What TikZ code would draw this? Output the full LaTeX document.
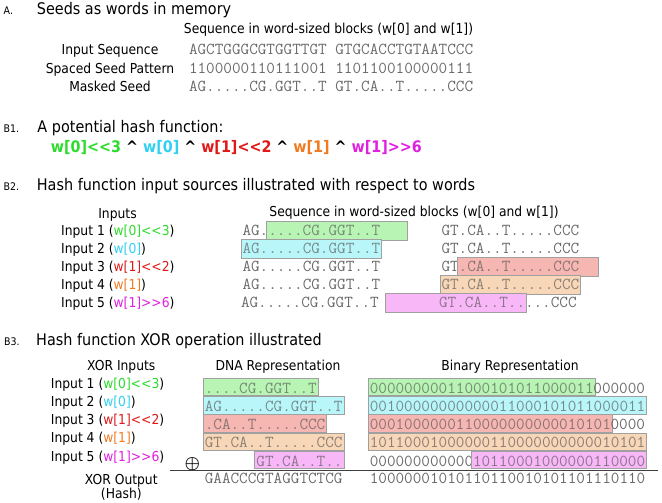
\documentclass[tikz,border=0pt]{standalone}
\usepackage{fontspec}
\setsansfont{DejaVu Sans}[FakeStretch=0.9]
\usepackage{tikz}

\definecolor{txtgreen}{HTML}{2CDC2C}
\definecolor{txtcyan}{HTML}{30D0F0}
\definecolor{txtred}{HTML}{E01818}
\definecolor{txtorange}{HTML}{F07A20}
\definecolor{txtmagenta}{HTML}{E020E0}
\definecolor{boxgreen}{HTML}{B8F4B4}
\definecolor{boxcyan}{HTML}{B8F6FA}
\definecolor{boxred}{HTML}{F6B6B2}
\definecolor{boxorange}{HTML}{F8D6B8}
\definecolor{boxmagenta}{HTML}{F8B8F8}
\definecolor{boxline}{HTML}{A0A0A0}
\definecolor{seqgray}{HTML}{6A6A6A}

% width of one sequence character
\newcommand{\chw}{8.6}
% shift operators (kern keeps << and >> from turning into guillemets)
\newcommand{\shl}{<\kern0pt<}
\newcommand{\shr}{>\kern0pt>}

\begin{document}
\begin{tikzpicture}[
  x=1pt, y=-1pt,
  head/.style={font=\sffamily\fontsize{16}{18}\selectfont, anchor=base west, inner sep=0pt},
  tag/.style={font=\sffamily\fontsize{10.5}{12}\selectfont, anchor=base west, inner sep=0pt},
  lbl/.style={font=\sffamily\fontsize{13.7}{16}\selectfont, anchor=base, inner sep=0pt},
  lblw/.style={lbl, anchor=base west},
  formula/.style={font=\sffamily\bfseries\fontsize{15.9}{18}\selectfont, anchor=base west, inner sep=0pt},
  seq/.style={font=\ttfamily\fontsize{16.72}{18}\selectfont, text=seqgray, anchor=text, inner sep=0pt},
  wbox/.style={seq, draw=boxline, line width=0.9pt, inner xsep=1.5pt,
               text height=12.5pt, text depth=3.1pt, inner ysep=1.7pt},
  xbox/.style={seq, draw=boxline, line width=0.9pt, inner xsep=1.5pt,
               text height=13pt, text depth=0.5pt, inner ysep=1.9pt},
  hlg/.style={fill=boxgreen, text=boxgreen!45!black!80},
  hlc/.style={fill=boxcyan, text=boxcyan!45!black!80},
  hlr/.style={fill=boxred, text=boxred!45!black!80},
  hlo/.style={fill=boxorange, text=boxorange!45!black!80},
  hlm/.style={fill=boxmagenta, text=boxmagenta!45!black!80},
  sumline/.style={draw=black!75, line width=1.2pt},
]
\useasboundingbox (0,0) rectangle (662,503);

%% A. seeds as words
\node[tag]  (tagA)  at (3.5,15) {A.};
\node[head] (headA) at (36.7,15) {Seeds as words in memory};
\node[lbl]  (colA)  at (328.5,34) {Sequence in word-sized blocks (w[0] and w[1])};
\node[lbl]  (inseq)  at (110,55)   {Input Sequence};
\node[lbl]  (spseed) at (110,73.2) {Spaced Seed Pattern};
\node[lbl]  (mseed)  at (110,91.3) {Masked Seed};
\node[seq]  (inseqW)  at (189,55)   {AGCTGGGCGTGGTTGT GTGCACCTGTAATCCC};
\node[seq]  (spseedW) at (189,73.2) {1100000110111001 1101100100000111};
\node[seq]  (mseedW)  at (189,91.3) {AG.....CG.GGT..T GT.CA..T.....CCC};

%% B1. hash function
\node[tag]  (tagB1)  at (3.5,132.5) {B1.};
\node[head] (headB1) at (37.3,132.5) {A potential hash function:};
\node[formula] (hashfn) at (50.7,152.3)
  {\textcolor{txtgreen}{w[0]\shl3} \textasciicircum{} \textcolor{txtcyan}{w[0]}
   \textasciicircum{} \textcolor{txtred}{w[1]\shl2} \textasciicircum{}
   \textcolor{txtorange}{w[1]} \textasciicircum{} \textcolor{txtmagenta}{w[1]\shr6}};

%% B2. input sources
\node[tag]  (tagB2)  at (3.5,190.8) {B2.};
\node[head] (headB2) at (36.7,190.8) {Hash function input sources illustrated with respect to words};
\node[lbl]  (inputs) at (117.5,218.3) {Inputs};
\node[lbl]  (colB2)  at (414,216.7) {Sequence in word-sized blocks (w[0] and w[1])};

\node[lblw] (in1) at (61,235.2) {Input 1 (\textcolor{txtgreen}{w[0]\shl3})};
\node[lblw] (in2) at (61,253.4) {Input 2 (\textcolor{txtcyan}{w[0]})};
\node[lblw] (in3) at (61,271.5) {Input 3 (\textcolor{txtred}{w[1]\shl2})};
\node[lblw] (in4) at (61,289.7) {Input 4 (\textcolor{txtorange}{w[1]})};
\node[lblw] (in5) at (61,307.8) {Input 5 (\textcolor{txtmagenta}{w[1]\shr6})};

% word 0 starts at 242.5, word 1 at 441.5
\node[seq]      (w1a) at (242.5,235.2) {AG.};
\node[wbox,hlg] (w1b) at (242.5+3*\chw,235.2) {....CG.GGT..T\phantom{000}};
\node[seq]      (w1c) at (441.5,235.2) {GT.CA..T.....CCC};

\node[wbox,hlc] (w2a) at (242.5,253.4) {AG.....CG.GGT..T};
\node[seq]      (w2b) at (441.5,253.4) {GT.CA..T.....CCC};

\node[seq]      (w3a) at (242.5,271.5) {AG.....CG.GGT..T};
\node[seq]      (w3b) at (441.5,271.5) {GT};
\node[wbox,hlr] (w3c) at (441.5+2*\chw,271.5) {.CA..T.....CCC\phantom{00}};

\node[seq]      (w4a) at (242.5,289.7) {AG.....CG.GGT..T};
\node[wbox,hlo] (w4b) at (441.5,289.7) {GT.CA..T.....CCC};

\node[seq]      (w5a) at (241,307.8) {AG.....CG.GGT..T};
\node[wbox,hlm] (w5b) at (439-6*\chw,307.8) {\phantom{000000}GT.CA..T..};
\node[seq]      (w5c) at (439+10*\chw,307.8) {...CCC};

%% B3. XOR operation
\node[tag]  (tagB3)  at (4,345.8) {B3.};
\node[head] (headB3) at (36,345.8) {Hash function XOR operation illustrated};
\node[lbl]  (xorin)  at (121.3,370.7) {XOR Inputs};
\node[lbl]  (dnarep) at (278,370.7) {DNA Representation};
\node[lbl]  (binrep) at (510,370.7) {Binary Representation};

\node[lblw] (x1) at (50.7,388.5)  {Input 1 (\textcolor{txtgreen}{w[0]\shl3})};
\node[lblw] (x2) at (50.7,406.65) {Input 2 (\textcolor{txtcyan}{w[0]})};
\node[lblw] (x3) at (50.7,424.8)  {Input 3 (\textcolor{txtred}{w[1]\shl2})};
\node[lblw] (x4) at (50.7,442.95) {Input 4 (\textcolor{txtorange}{w[1]})};
\node[lblw] (x5) at (50.7,461.1)  {Input 5 (\textcolor{txtmagenta}{w[1]\shr6})};

% DNA column starts at 204.8, binary column at 369.8
\node[xbox,hlg] (d1)  at (204.8,393.5) {....CG.GGT..T};
\node[xbox,hlg] (b1a) at (369.8,393.5) {00000000011000101011000011};
\node[seq]      (b1b) at (369.8+26*\chw,393.5) {000000};

\node[xbox,hlc] (d2)  at (204.8,411.65) {AG.....CG.GGT..T};
\node[xbox,hlc] (b2a) at (369.8,411.65) {00100000000000011000101011000011};

\node[xbox,hlr] (d3)  at (204.8,429.8) {.CA..T.....CCC};
\node[xbox,hlr] (b3a) at (369.8,429.8) {0001000000110000000000010101};
\node[seq]      (b3b) at (369.8+28*\chw,429.8) {0000};

\node[xbox,hlo] (d4)  at (204.8,447.95) {GT.CA..T.....CCC};
\node[xbox,hlo] (b4a) at (369.8,447.95) {10110001000000110000000000010101};

\node[xbox,hlm] (d5)  at (204.8+6*\chw,466.1) {GT.CA..T..};
\node[seq]      (b5a) at (369.8,466.1) {000000000000};
\node[xbox,hlm] (b5b) at (369.8+12*\chw,466.1) {10110001000000110000};

\node[font=\fontsize{18}{20}\selectfont\boldmath, inner sep=0pt] (xorsym) at (192.3,464.3) {$\oplus$};
\coordinate (sumL) at (170,470.7);
\coordinate (sumR) at (658.3,470.7);
\draw[sumline] (sumL) -- (sumR);

\node[lbl] (xorout) at (121.3,484.3) {XOR Output};
\node[lbl] (xorhash) at (121.3,498.5) {(Hash)};
\node[seq] (dhash) at (204.8,483.8) {GAACCCGTAGGTCTCG};
\node[seq] (bhash) at (369.8,483.8) {10000001010110110010101101110110};
\end{tikzpicture}
\end{document}
